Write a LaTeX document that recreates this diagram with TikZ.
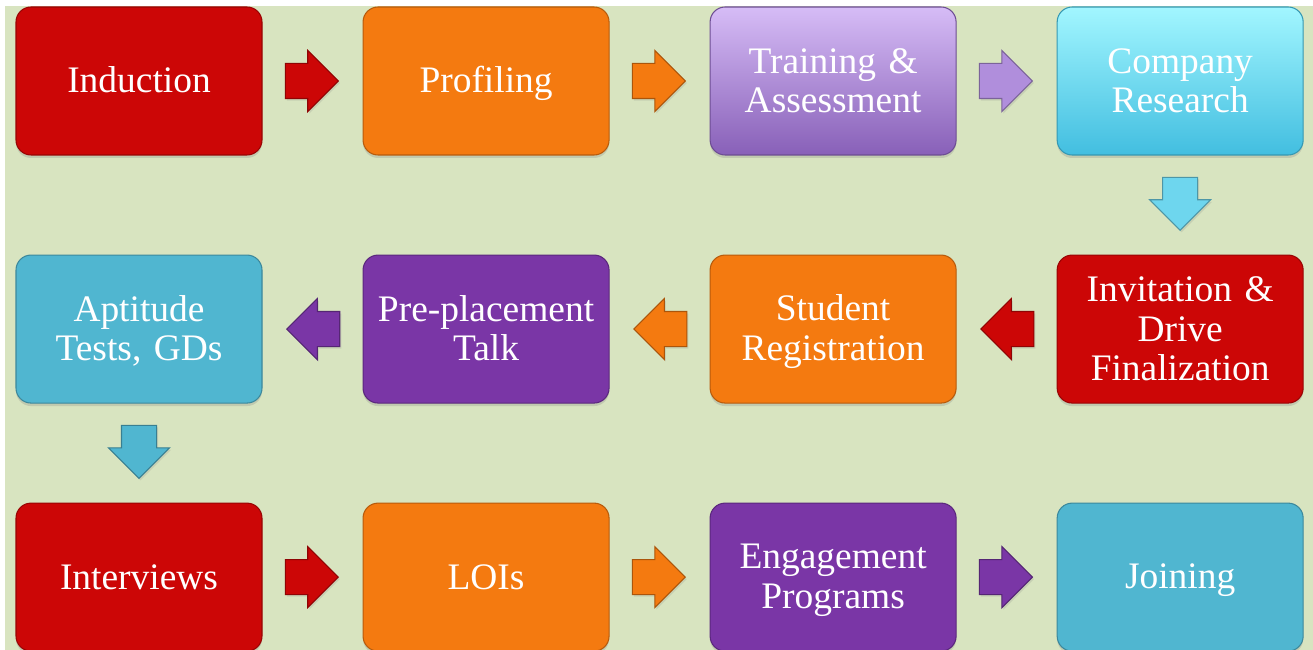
\documentclass[tikz,border=0pt]{standalone}
\usepackage{fontspec}
\setmainfont{Liberation Serif}
\usetikzlibrary{positioning,shapes.arrows,calc,shadows}
\definecolor{paper}{RGB}{216,228,192}
\definecolor{pred}{RGB}{204,6,6}
\definecolor{porange}{RGB}{244,122,16}
\definecolor{ppurple}{RGB}{122,54,166}
\definecolor{pblue}{RGB}{80,182,208}
\definecolor{lavtop}{RGB}{214,188,246}
\definecolor{lavbot}{RGB}{136,96,184}
\definecolor{lavmid}{RGB}{176,142,220}
\definecolor{cyantop}{RGB}{162,246,255}
\definecolor{cyanbot}{RGB}{66,190,224}
\definecolor{cyanmid}{RGB}{110,214,238}
\tikzset{
    phase/.style={rectangle,rounded corners=3mm,minimum width=4.92cm,minimum height=2.96cm,
        text width=4.7cm,align=center,inner sep=0pt,text=white,
        font=\fontsize{21.3}{22.3}\selectfont,
        execute at begin node={\rule{0pt}{17.6pt}},
        execute at end node={\rule[-4pt]{0pt}{0pt}},
        drop shadow={opacity=0.25,shadow xshift=0pt,shadow yshift=-0.6mm}},
    flat/.style={phase,fill=#1,draw=#1!75!black,semithick},
    shaded/.style 2 args={phase,top color=#1,bottom color=#2,draw=#2!80!black,semithick},
    blockarrow/.style={single arrow,minimum height=1.06cm,inner xsep=0pt,inner ysep=0.34cm,
        single arrow head extend=0.26cm,fill=#1,draw=#1!70!black,semithick,
        drop shadow={opacity=0.2,shadow xshift=0.3mm,shadow yshift=-0.4mm}},
    rarrow/.style={blockarrow=#1,xshift=-0.19cm},
    larrow/.style={blockarrow=#1,xshift=0.19cm,rotate=180},
    darrow/.style={blockarrow=#1,yshift=0.2cm,rotate=-90}
}

\begin{document}
\begin{tikzpicture}
    \useasboundingbox (0,0) rectangle (26.26,-13);
    \fill[paper] (0.1,-0.12) rectangle (26.26,-13);

    % first row
    \node[flat=pred] (induction) at (2.78,-1.62) {Induction};
    \node[flat=porange, right=2cm of induction] (profiling) {Profiling};
    \node[shaded={lavtop}{lavbot}, right=2cm of profiling] (training) {Training \&\\Assessment};
    \node[shaded={cyantop}{cyanbot}, right=2cm of training] (research) {Company\\Research};

    % second row, right to left
    \node[flat=pred, below=1.98cm of research] (invitation) {Invitation \&\\Drive\\Finalization};
    \node[flat=porange, left=2cm of invitation] (registration) {Student\\Registration};
    \node[flat=ppurple, left=2cm of registration] (talk) {Pre-placement\\Talk};
    \node[flat=pblue, left=2cm of talk] (aptitude) {Aptitude\\Tests, GDs};

    % third row
    \node[flat=pred, below=1.98cm of aptitude] (interviews) {Interviews};
    \node[flat=porange, right=2cm of interviews] (lois) {LOIs};
    \node[flat=ppurple, right=2cm of lois] (engagement) {Engagement\\Programs};
    \node[flat=pblue, right=2cm of engagement] (joining) {Joining};

    % arrows
    \node[rarrow=pred] (arrow 1) at ($(induction)!0.5!(profiling)$) {};
    \node[rarrow=porange] (arrow 2) at ($(profiling)!0.5!(training)$) {};
    \node[rarrow=lavmid] (arrow 3) at ($(training)!0.5!(research)$) {};
    \node[darrow=cyanmid] (arrow 4) at ($(research)!0.5!(invitation)$) {};
    \node[larrow=pred] (arrow 5) at ($(invitation)!0.5!(registration)$) {};
    \node[larrow=porange] (arrow 6) at ($(registration)!0.5!(talk)$) {};
    \node[larrow=ppurple] (arrow 7) at ($(talk)!0.5!(aptitude)$) {};
    \node[darrow=pblue] (arrow 8) at ($(aptitude)!0.5!(interviews)$) {};
    \node[rarrow=pred] (arrow 9) at ($(interviews)!0.5!(lois)$) {};
    \node[rarrow=porange] (arrow 10) at ($(lois)!0.5!(engagement)$) {};
    \node[rarrow=ppurple] (arrow 11) at ($(engagement)!0.5!(joining)$) {};
\end{tikzpicture}
\end{document}
